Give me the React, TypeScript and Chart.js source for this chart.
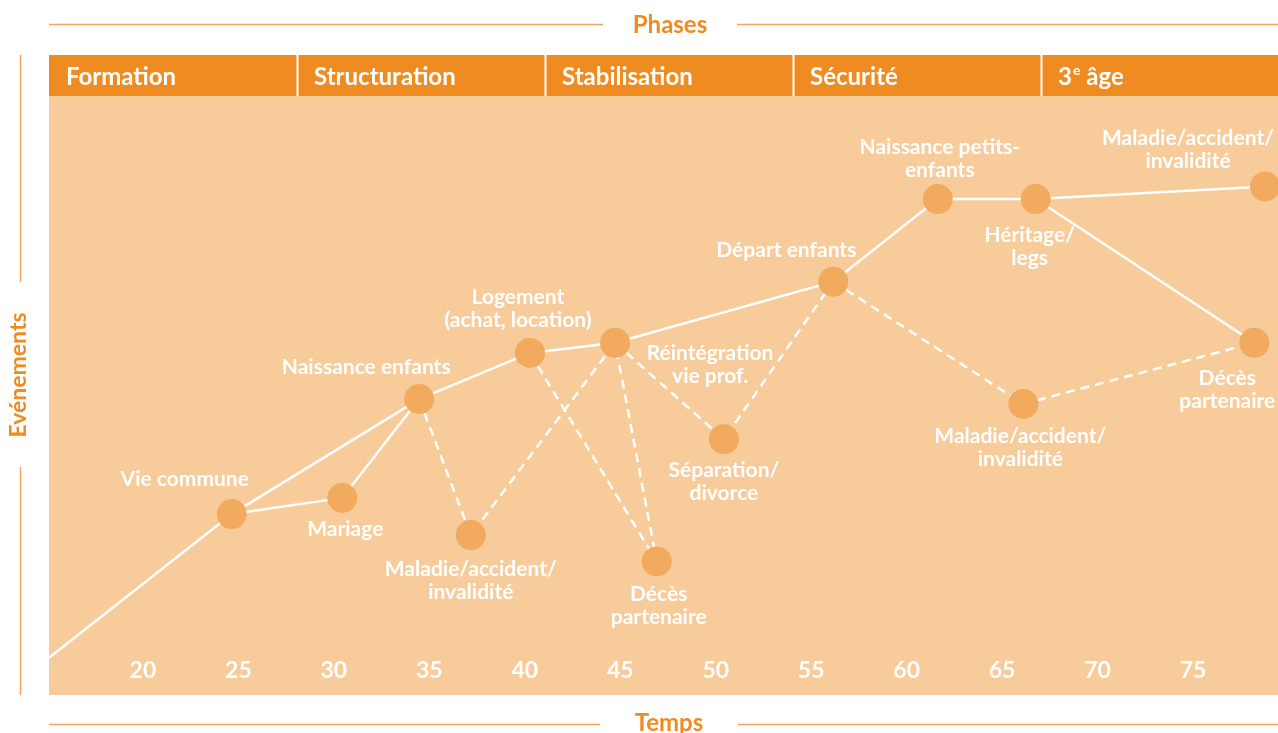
import React, { useEffect, useRef } from "react";
import { Chart, registerables } from "chart.js";
Chart.register(...registerables);

// ---- data ----
const eventLabels: string[][] = [
  ["Vie commune"],
  ["Mariage"],
  ["Naissance enfants"],
  ["Maladie/accident/", "invalidité"],
  ["Logement", "(achat, location)"],
  ["Réintégration", "vie prof."],
  ["Décès", "partenaire"],
  ["Séparation/", "divorce"],
  ["Départ enfants"],
  ["Naissance petits-", "enfants"],
  ["Héritage/", "legs"],
  ["Maladie/accident/", "invalidité"],
  ["Décès", "partenaire"],
  ["Maladie/accident/", "invalidité"],
];
const eventAges = [24.65, 30.44, 34.47, 37.17, 40.27, 44.73, 46.91, 50.43, 56.16, 61.63, 66.76, 66.11, 78.21, 78.77];
const eventLevels = [30.2, 32.9, 49.4, 26.7, 57.1, 58.8, 22.3, 42.7, 69.0, 82.8, 82.8, 48.6, 58.8, 84.9];
const startAge = 15.08;
const startLevel = 6.2;
// -1 = start of the path at the left edge
const solidPaths = [
  [-1, 0, 2, 4, 5, 8, 9, 10, 13],
  [0, 1, 2],
  [10, 12],
];
const dashedPaths = [
  [2, 3, 5],
  [4, 6, 5],
  [5, 7, 8],
  [8, 11, 12],
];
const tickAges = [20, 25, 30, 35, 40, 45, 50, 55, 60, 65, 70, 75];
const phaseNames = ["Formation", "Structuration", "Stabilisation", "Sécurité", "3e âge"];
const phaseStarts = [15.08, 28.07, 41.06, 54.05, 67.04];
const xMin = 15.08;
const xMax = 79.45;

// ---- styles ----
const labelOffsets: [number, number][] = [
  [-47, -35], [3, 31], [-53, -32], [0, 34], [-12, -56], [95, 10], [2, 33],
  [0, 31], [-47, -31], [2, -52], [-6, 36], [-3, 32], [-27, 35], [-77, -48],
];
const FONT = "Lato, 'Open Sans', sans-serif";
const ORANGE = "#EE8B21";
const LINE_ORANGE = "#F2A55A";
const PEACH = "#F8CB9B";
const DOT = "#F2AA5E";

function pathData(path: number[]) {
  return path.map((i) =>
    i < 0 ? { x: startAge, y: startLevel } : { x: eventAges[i], y: eventLevels[i] }
  );
}

const decorPlugin = {
  id: "decor",
  beforeDraw(chart: any) {
    const { ctx, chartArea, scales } = chart;
    const xs = scales.x;
    const W = chart.width;
    ctx.save();
    // peach plot background
    ctx.fillStyle = PEACH;
    ctx.fillRect(chartArea.left, chartArea.top, chartArea.right - chartArea.left, chartArea.bottom - chartArea.top);
    // phase band
    const bandTop = 55;
    ctx.fillStyle = ORANGE;
    ctx.fillRect(chartArea.left, bandTop, chartArea.right - chartArea.left, chartArea.top - bandTop);
    ctx.strokeStyle = "#ffffff";
    ctx.lineWidth = 2;
    phaseStarts.forEach((a, i) => {
      const px = xs.getPixelForValue(a);
      if (i > 0) {
        ctx.beginPath();
        ctx.moveTo(Math.round(px) + 0.5, bandTop);
        ctx.lineTo(Math.round(px) + 0.5, chartArea.top);
        ctx.stroke();
      }
      const name = phaseNames[i];
      const tx = px + 17;
      const ty = 77;
      ctx.fillStyle = "#ffffff";
      ctx.textBaseline = "middle";
      ctx.textAlign = "left";
      const m = name.match(/^(\d+)e (.*)$/);
      if (m) {
        ctx.font = `bold 24px ${FONT}`;
        ctx.fillText(m[1], tx, ty);
        let w = ctx.measureText(m[1]).width;
        ctx.font = `bold 14px ${FONT}`;
        ctx.fillText("e", tx + w + 1, ty - 7);
        w += ctx.measureText("e").width + 1;
        ctx.font = `bold 24px ${FONT}`;
        ctx.fillText(" " + m[2], tx + w, ty);
      } else {
        ctx.font = `bold 24px ${FONT}`;
        ctx.fillText(name, tx, ty);
      }
    });
    // titles with rules
    ctx.strokeStyle = LINE_ORANGE;
    ctx.lineWidth = 1.5;
    const rule = (x1: number, x2: number, y: number) => {
      ctx.beginPath();
      ctx.moveTo(x1, y);
      ctx.lineTo(x2, y);
      ctx.stroke();
    };
    rule(chartArea.left, 603, 24.5);
    rule(737, W, 24.5);
    rule(chartArea.left, 600, 724.5);
    rule(738, W, 724.5);
    ctx.beginPath();
    ctx.moveTo(20.5, 55);
    ctx.lineTo(20.5, 282);
    ctx.moveTo(20.5, 467);
    ctx.lineTo(20.5, chartArea.bottom);
    ctx.stroke();
    ctx.fillStyle = ORANGE;
    ctx.font = `bold 24px ${FONT}`;
    ctx.textAlign = "center";
    ctx.textBaseline = "middle";
    ctx.fillText("Phases", 670, 25);
    ctx.textBaseline = "alphabetic";
    ctx.fillText("Temps", 669, 731);
    ctx.save();
    ctx.translate(19, 375);
    ctx.rotate(-Math.PI / 2);
    ctx.textBaseline = "middle";
    ctx.font = `bold 23px ${FONT}`;
    ctx.fillText("Evénements", 0, 0);
    ctx.restore();
    // x tick labels inside the plot
    ctx.fillStyle = "#ffffff";
    ctx.font = `bold 23px ${FONT}`;
    ctx.textAlign = "center";
    ctx.textBaseline = "middle";
    tickAges.forEach((t) => {
      ctx.fillText(String(t), xs.getPixelForValue(t), 671);
    });
    ctx.restore();
  },
  afterDraw(chart: any) {
    const { ctx, scales } = chart;
    ctx.save();
    ctx.fillStyle = "#ffffff";
    ctx.font = `bold 21px ${FONT}`;
    ctx.textAlign = "center";
    ctx.textBaseline = "middle";
    eventLabels.forEach((lines, i) => {
      const px = scales.x.getPixelForValue(eventAges[i]);
      const py = scales.y.getPixelForValue(eventLevels[i]);
      const [dx, dy] = labelOffsets[i];
      lines.forEach((ln, j) => ctx.fillText(ln, px + dx, py + dy + j * 23));
    });
    ctx.restore();
  },
};

export default function App() {
  const ref = useRef<HTMLCanvasElement | null>(null);
  useEffect(() => {
    document.body.style.margin = "0";
    const canvas = ref.current!;
    const datasets: any[] = [
      {
        label: "events",
        data: eventAges.map((a, i) => ({ x: a, y: eventLevels[i] })),
        showLine: false,
        pointRadius: 15,
        pointBackgroundColor: DOT,
        pointBorderWidth: 0,
        order: 0,
      },
    ];
    solidPaths.forEach((p, k) =>
      datasets.push({
        label: "solid" + k,
        data: pathData(p),
        borderColor: "#ffffff",
        borderWidth: 2.5,
        pointRadius: 0,
        tension: 0,
        fill: false,
        order: 1,
      })
    );
    dashedPaths.forEach((p, k) =>
      datasets.push({
        label: "dashed" + k,
        data: pathData(p),
        borderColor: "#ffffff",
        borderWidth: 2.5,
        borderDash: [9, 6],
        pointRadius: 0,
        tension: 0,
        fill: false,
        order: 1,
      })
    );
    const chart = new Chart(canvas, {
      type: "line",
      data: { datasets },
      options: {
        animation: false,
        responsive: false,
        devicePixelRatio: 1,
        events: [],
        layout: { autoPadding: false, padding: { left: 49, top: 96, right: 0, bottom: 38 } },
        plugins: { legend: { display: false }, tooltip: { enabled: false } },
        scales: {
          x: { type: "linear", min: xMin, max: xMax, display: false },
          y: { type: "linear", min: 0, max: 100, display: false },
        },
      },
      plugins: [decorPlugin],
    });
    return () => chart.destroy();
  }, []);
  return (
    <div style={{ width: 1278, height: 733, background: "#ffffff" }}>
      <canvas ref={ref} width={1278} height={733} style={{ display: "block" }} />
    </div>
  );
}
